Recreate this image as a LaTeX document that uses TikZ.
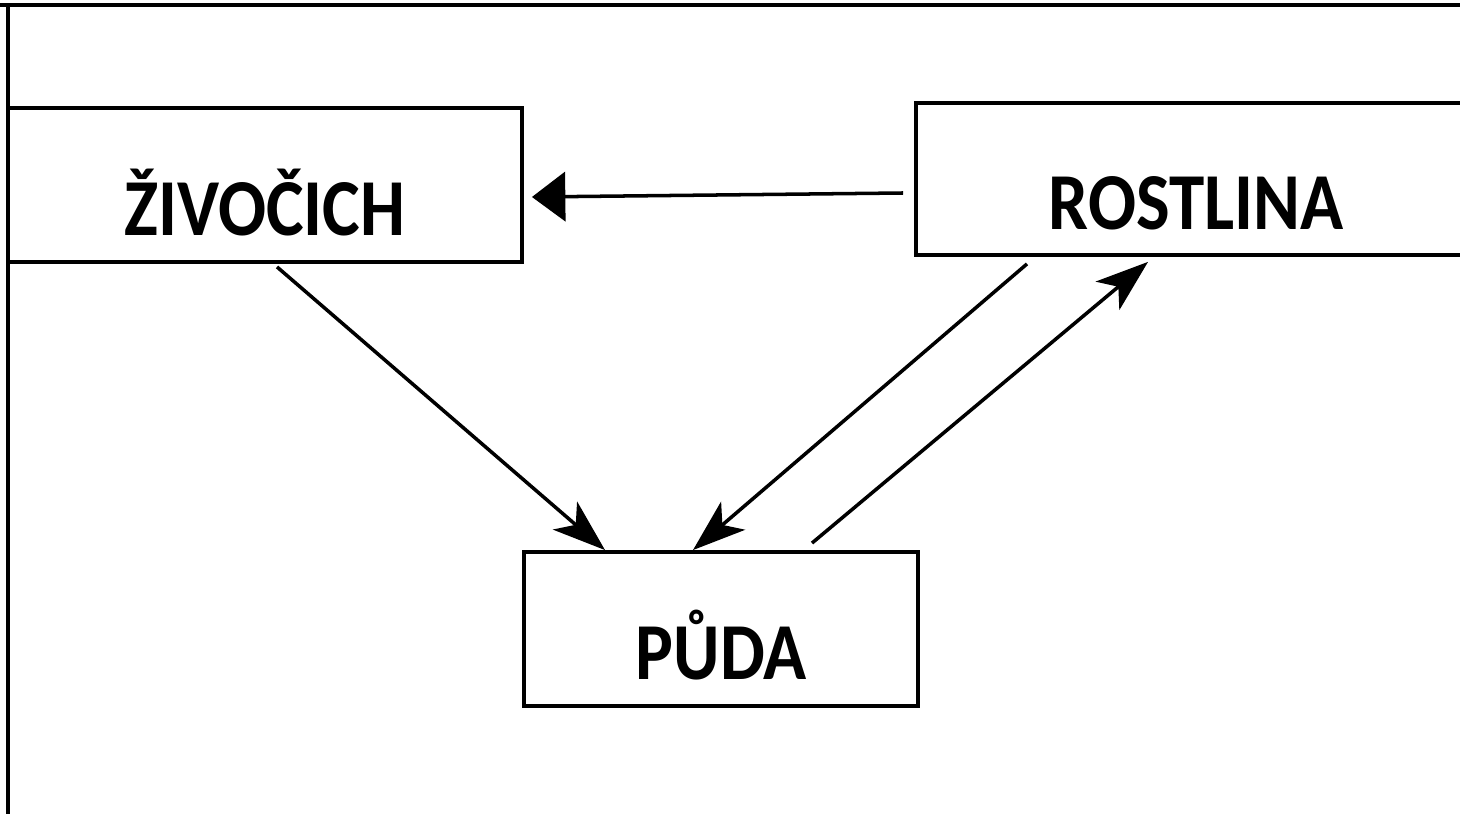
\documentclass[tikz,border=0pt]{standalone}
\usepackage{fontspec}
\setmainfont{Carlito}
\usetikzlibrary{arrows.meta}

\begin{document}
\begin{tikzpicture}[
  box/.style={draw,line width=2.2pt,inner sep=0pt,text height=2.04cm,text depth=0cm,
    font=\fontsize{46}{50}\selectfont\bfseries},
  flow/.style={line width=2pt,-{Stealth[length=30pt,width=21pt,inset=8pt]}},
  back/.style={line width=2pt,-{Triangle[length=19pt,width=28pt]}}]
  \useasboundingbox (0,0) rectangle (29.2,16.28);
  % ----- frame -----
  \draw[line width=1.8pt] (0,16.18) -- (29.2,16.18);
  \draw[line width=1.8pt] (0.16,16.18) -- (0.16,0);
  % ----- boxes -----
  \node[box,minimum width=10.28cm,minimum height=3.08cm] (zivocich) at (5.3,12.58){\scalebox{0.88}[1]{ŽIVOČICH}};
  \node[box,minimum width=11.2cm,minimum height=3.04cm] (rostlina) at (23.92,12.7){\scalebox{0.88}[1]{ROSTLINA}};
  \node[box,minimum width=7.88cm,minimum height=3.08cm] (puda) at (14.42,3.7){\scalebox{0.88}[1]{PŮDA}};
  % ----- arrows -----
  \draw[back] ([xshift=-0.22cm,yshift=-0.28cm]rostlina.west) -- ([xshift=0.16cm,yshift=-0.24cm]zivocich.east);
  \draw[flow] ([xshift=0.24cm,yshift=-0.06cm]zivocich.south) -- ([xshift=-2.32cm]puda.north);
  \draw[flow] ([xshift=-3.38cm,yshift=-0.14cm]rostlina.south) -- ([xshift=-0.56cm]puda.north);
  \draw[flow] ([xshift=1.82cm,yshift=0.14cm]puda.north) -- ([xshift=-0.96cm,yshift=-0.1cm]rostlina.south);
\end{tikzpicture}
\end{document}
